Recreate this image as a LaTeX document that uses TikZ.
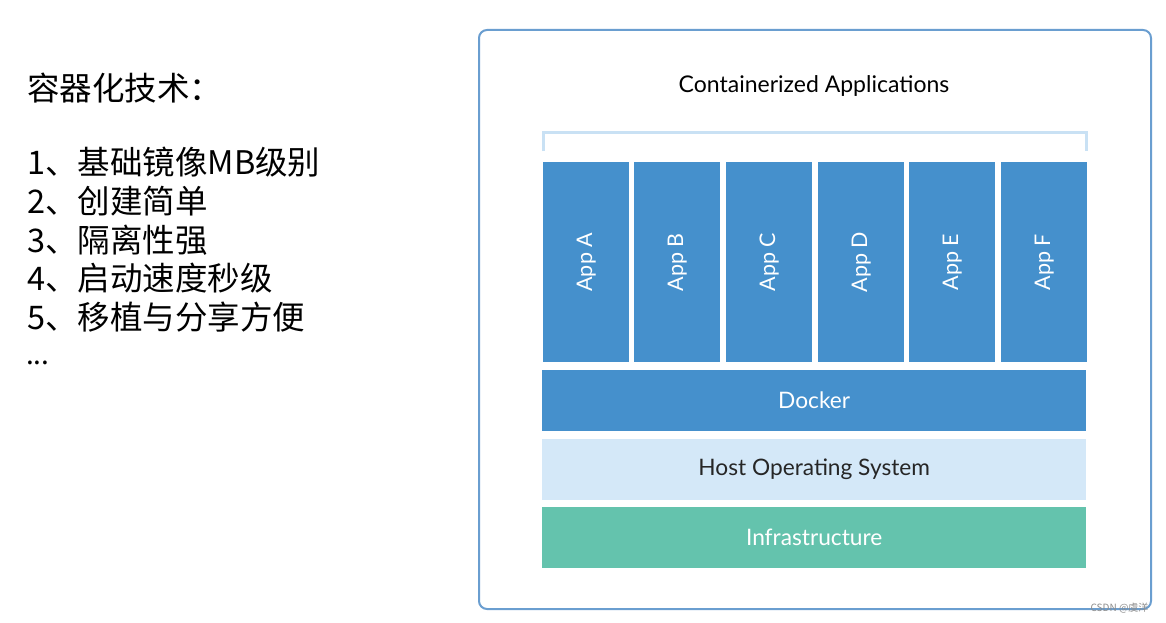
\documentclass[tikz,border=0pt]{standalone}
\usepackage{fontspec}
\setmainfont{Lato}
\newfontfamily\cjk{Noto Sans CJK SC}
\definecolor{dblue}{HTML}{4590CC}
\definecolor{lblue}{HTML}{D4E8F8}
\definecolor{green}{HTML}{64C3AD}
\definecolor{frame}{HTML}{6A9ED0}
\definecolor{brk}{HTML}{C9E1F4}
\begin{document}
\begin{tikzpicture}[x=1pt,y=-1pt,
  layer/.style={anchor=north west,inner sep=0pt,minimum width=544pt,minimum height=61pt,font=\fontsize{22.7}{26}\selectfont},
  app/.style={fill=dblue,anchor=north west,inner sep=0pt,minimum width=86pt,minimum height=200pt},
  lbl/.style={text=white,rotate=90,font=\fontsize{21.5}{25}\selectfont},
  line/.style={anchor=west,inner sep=0pt,font=\cjk\fontsize{32.5}{36}\selectfont}]
\useasboundingbox (0,0) rectangle (1166,623);
\fill[white] (0,0) rectangle (1166,623);
\draw[frame,line width=2pt,rounded corners=8pt] (479,30) rectangle (1151,609);
\node (title) at (814,86) {\fontsize{23}{26}\selectfont Containerized Applications};
\draw[brk,line width=3pt] (543,151) -- (543,132) -- (1086,132) -- (1086,151);
\foreach \n/\x/\t in {a/543/A,b/634/B,c/726/C,d/818/D,e/909/E,f/1001/F}{
  \node[app] (app\n) at (\x,162) {};
  \node[lbl] at (app\n.center) {App \t};
}
\node[layer,fill=dblue,text=white] (docker) at (542,370) {Docker};
\node[layer,fill=lblue,text=black!85] (host) at (542,439) {Host Operating System};
\node[layer,fill=green,text=white] (infra) at (542,507) {Infrastructure};
\node[line] (t0) at (27,88) {容器化技术：};
\node[line] (t1) at (27,162) {1、基础镜像MB级别};
\node[line] (t2) at (27,201) {2、创建简单};
\node[line] (t3) at (27,240) {3、隔离性强};
\node[line] (t4) at (27,278) {4、启动速度秒级};
\node[line] (t5) at (27,317) {5、移植与分享方便};
\node[anchor=base west,inner sep=0pt,font=\cjk\fontsize{28}{30}\selectfont] (t6) at (26,364) {...};
\node[anchor=east,text=black!45,font=\cjk\fontsize{10}{12}\selectfont] (wm) at (1152,608) {CSDN @虞洋};
\end{tikzpicture}
\end{document}
